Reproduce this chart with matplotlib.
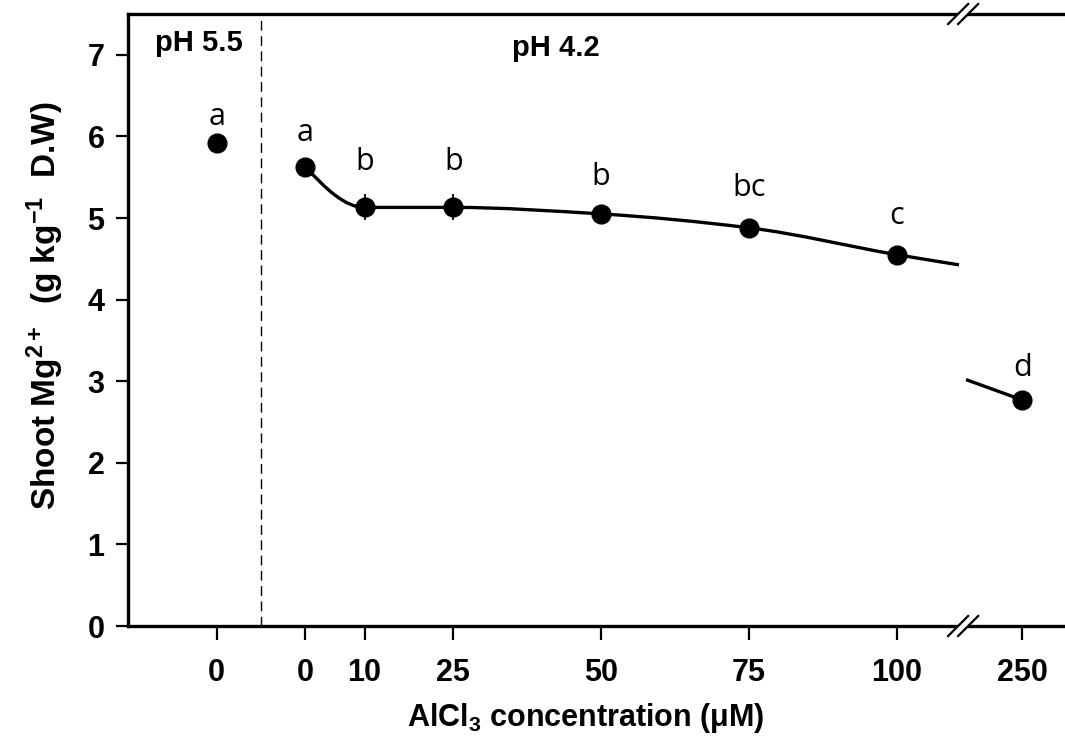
import numpy as np
import matplotlib
matplotlib.use("Agg")
import matplotlib.pyplot as plt
from matplotlib.path import Path
from matplotlib.patches import PathPatch, Polygon

plt.rcParams["font.family"] = ["Liberation Sans", "DejaVu Sans"]
plt.rcParams["mathtext.fontset"] = "custom"
plt.rcParams["mathtext.rm"] = "Liberation Sans"
plt.rcParams["mathtext.bf"] = "Liberation Sans:bold"
plt.rcParams["mathtext.it"] = "Liberation Sans:italic"

# data
ctrl_x = -15                     # pH 5.5 control, placed left of the divider
ctrl_y = 5.92
ctrl_err = 0.08
ctrl_letter = "a"

conc = [0, 10, 25, 50, 75, 100, 250]
mg = [5.63, 5.13, 5.13, 5.05, 4.88, 4.55, 2.77]
mg_err = [0.08, 0.16, 0.16, 0.08, 0.08, 0.08, 0.08]
letters = ["a", "b", "b", "b", "bc", "c", "d"]
letter_y = [6.04, 5.69, 5.69, 5.50, 5.37, 5.02, 3.16]
ctrl_letter_y = 6.24

tick_pos = [-15, 0, 10, 25, 50, 75, 100, 250]
tick_lab = ["0", "0", "10", "25", "50", "75", "100", "250"]

# broken x axis: conc 110.5..229 squeezed into a tiny gap
brk_src = [-1000, 110.5, 229, 1000]
brk_dst = [-1000, 110.5, 111.7, 111.7 + 771 * 0.452]


def fwd(v):
    return np.interp(v, brk_src, brk_dst)


def inv(v):
    return np.interp(v, brk_dst, brk_src)


fig = plt.figure(figsize=(10.65, 7.42), dpi=100)
ax = fig.add_axes([128 / 1065, 1 - 626 / 742, 937 / 1065, 612 / 742])
ax.set_xscale("function", functions=(fwd, inv))
ax.set_xlim(-30, 266)
ax.set_ylim(0, 7.5)

# smooth curve 0..100 (monotone cubic hermite drawn as a bezier path)
x = np.array(conc[:6], float)
y = np.array(mg[:6], float)
sec = np.diff(y) / np.diff(x)
slope_end = (mg[6] - mg[5]) / (conc[6] - conc[5])
m = np.empty(6)
for i in range(1, 5):
    a, b = sec[i - 1], sec[i]
    m[i] = 0.0 if a * b <= 0 else 2 * a * b / (a + b)
m[5] = (sec[-1] + slope_end) / 2
m[0] = 1.6 * sec[0]
verts = [(x[0], y[0])]
codes = [Path.MOVETO]
for i in range(5):
    h = x[i + 1] - x[i]
    verts += [(x[i] + h / 3, y[i] + m[i] * h / 3),
              (x[i + 1] - h / 3, y[i + 1] - m[i + 1] * h / 3),
              (x[i + 1], y[i + 1])]
    codes += [Path.CURVE4] * 3
ax.add_patch(PathPatch(Path(verts, codes), fill=False, lw=2.4, color="black",
                       zorder=3, capstyle="butt"))

# straight piece 100 -> 250, interrupted by the break
y_lo = np.interp(brk_src[1], conc[5:], mg[5:])
y_hi = np.interp(brk_src[2], conc[5:], mg[5:])
ax.plot([conc[5], brk_src[1]], [mg[5], y_lo], color="black", lw=2.4,
        solid_capstyle="butt", zorder=3)
ax.plot([brk_src[2], conc[6]], [y_hi, mg[6]], color="black", lw=2.4,
        solid_capstyle="butt", zorder=3)

ax.errorbar([ctrl_x] + conc, [ctrl_y] + mg, yerr=[ctrl_err] + mg_err, fmt="o",
            color="black", ms=13.5, elinewidth=1.3, capsize=0, zorder=4)

letter_font = dict(fontsize=22, family=["Open Sans", "DejaVu Sans"],
                   ha="center", va="center")
ax.text(ctrl_x, ctrl_letter_y, ctrl_letter, **letter_font)
for cx, ly, lt in zip(conc, letter_y, letters):
    ax.text(cx, ly, lt, **letter_font)

ax.text(-18.1, 7.14, "pH 5.5", fontsize=21, fontweight="bold", ha="center", va="center")
ax.text(42.3, 7.08, "pH 4.2", fontsize=21, fontweight="bold", ha="center", va="center")

ax.axvline(-7.5, color="black", lw=1.0, dashes=(7, 4), zorder=1)

ax.set_xticks(tick_pos)
ax.set_xticklabels(tick_lab)
ax.set_yticks(range(8))
ax.tick_params(axis="both", direction="out", width=1.6, labelsize=22)
ax.tick_params(axis="x", length=10, pad=13)
ax.tick_params(axis="y", length=9, pad=8)
for lab in ax.get_xticklabels() + ax.get_yticklabels():
    lab.set_fontweight("bold")

ax.spines["right"].set_visible(False)
for s in ["left", "bottom", "top"]:
    ax.spines[s].set_linewidth(2.4)

ax.set_xlabel(r"AlCl$_{\mathbf{3}}$ concentration (μM)", fontsize=22, fontweight="bold")
ax.xaxis.label.set_va("center")
ax.xaxis.set_label_coords(0.488, -0.150)
ax.set_ylabel(r"Shoot Mg$^{\mathbf{2+}}$  (g kg$^{\mathbf{-1}}$  D.W)", fontsize=24,
              fontweight="bold")
ax.yaxis.label.set_va("center")
ax.yaxis.set_label_coords(-0.0886, 0.523)

# break marks on top and bottom spines
xb = (fwd(brk_src[2]) - 0.5 + 30) / (fwd(266) + 30)
dx, dy, sep = 10 / 937, 10 / 612, 5 / 937
for yb in (0, 1):
    gap = Polygon([(xb - sep - dx, yb - dy), (xb + sep - dx, yb - dy),
                   (xb + sep + dx, yb + dy), (xb - sep + dx, yb + dy)],
                  closed=True, transform=ax.transAxes, facecolor="white",
                  edgecolor="none", clip_on=False, zorder=5)
    ax.add_patch(gap)
    for s in (-sep, sep):
        ax.plot([xb + s - dx, xb + s + dx], [yb - dy, yb + dy], color="black",
                lw=1.6, transform=ax.transAxes, clip_on=False, zorder=6)

fig.savefig("out.png", dpi=100)
